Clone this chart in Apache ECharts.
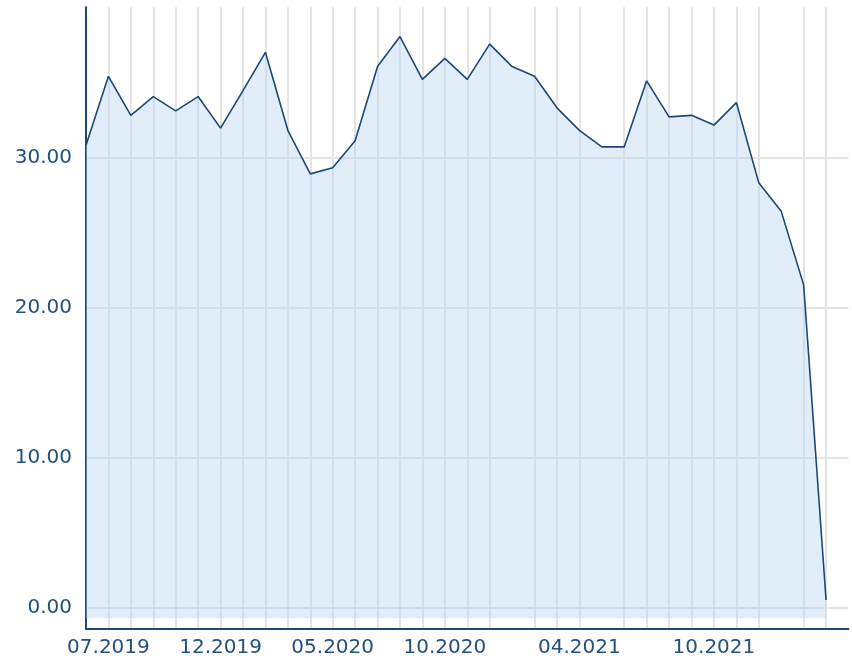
<!DOCTYPE html>
<html>
<head>
<meta charset="utf-8">
<script src="https://cdn.jsdelivr.net/npm/echarts@6/dist/echarts.min.js"></script>
<style>
  html, body { margin: 0; padding: 0; background: #fff; }
  #main { width: 852px; height: 661px; }
</style>
</head>
<body>
<div id="main"></div>
<script>
// monthly points, 06.2019 - 03.2022, plus one empty slot for right padding
var months = [
  '06.2019','07.2019','08.2019','09.2019','10.2019','11.2019','12.2019',
  '01.2020','02.2020','03.2020','04.2020','05.2020','06.2020','07.2020',
  '08.2020','09.2020','10.2020','11.2020','12.2020','01.2021','02.2021',
  '03.2021','04.2021','05.2021','06.2021','07.2021','08.2021','09.2021',
  '10.2021','11.2021','12.2021','01.2022','02.2022','03.2022',''
];
var values = [
  30.8, 35.4, 32.8, 34.05, 33.1, 34.05, 31.95,
  34.45, 37.0, 31.8, 28.9, 29.3, 31.1, 36.05,
  38.05, 35.2, 36.6, 35.2, 37.55, 36.05, 35.4,
  33.3, 31.8, 30.7, 30.7, 35.1, 32.7, 32.8,
  32.15, 33.65, 28.3, 26.4, 21.5, 0.5
];
var labelIdx = [1, 6, 11, 16, 22, 28];
var noGridIdx = [19, 23, 31, 34];

var txt = '#24507e';
var myChart = echarts.init(document.getElementById('main'));
var option = {
  animation: false,
  grid: { left: 86, right: 3.5, top: 7.3, bottom: 32.5 },
  xAxis: {
    type: 'category',
    data: months,
    boundaryGap: false,
    z: 0,
    axisLine: { onZero: false, lineStyle: { color: '#1e4a7b', width: 2 } },
    axisTick: { show: false },
    axisLabel: {
      color: txt,
      fontFamily: 'DejaVu Sans',
      fontSize: 20,
      margin: 9,
      interval: function (i) { return labelIdx.indexOf(i) >= 0; }
    },
    splitLine: {
      show: true,
      interval: function (i) { return noGridIdx.indexOf(i) < 0; },
      lineStyle: { color: '#e4e4e4', width: 2 }
    }
  },
  yAxis: {
    type: 'value',
    min: -1.4,
    max: 40,
    splitNumber: 4,
    z: 0,
    axisLine: { show: true, onZero: false, lineStyle: { color: '#1e4a7b', width: 2 } },
    axisTick: { show: false },
    axisLabel: {
      color: txt,
      fontFamily: 'DejaVu Sans',
      fontSize: 20,
      margin: 14,
      showMinLabel: false,
      showMaxLabel: false,
      formatter: function (v) {
        return (Math.abs(v % 10) < 1e-9) ? v.toFixed(2) : '';
      }
    },
    splitLine: {
      showMinLine: false,
      showMaxLine: false,
      lineStyle: { color: '#e4e4e4', width: 2 }
    }
  },
  series: [{
    type: 'line',
    z: 5,
    data: values,
    symbol: 'none',
    lineStyle: { color: '#1c4877', width: 1.6 },
    areaStyle: { color: 'rgb(180,212,240)', opacity: 0.4, origin: -0.7 }
  }]
};
myChart.setOption(option);
</script>
</body>
</html>
